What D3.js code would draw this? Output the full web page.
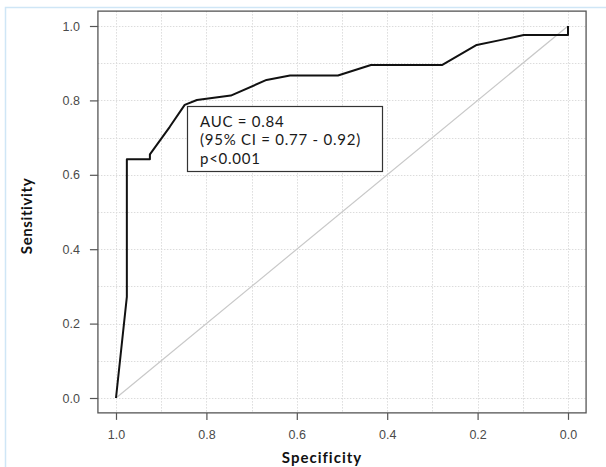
<!DOCTYPE html>
<html><head><meta charset="utf-8">
<script src="https://cdn.jsdelivr.net/npm/d3@7"></script>
<style>html,body{margin:0;padding:0;background:#fff;}svg{display:block;}</style>
</head><body>
<script>
// ROC curve points (specificity, sensitivity)
const specificity = [1.0, 0.976, 0.976, 0.925, 0.925, 0.881, 0.848, 0.821, 0.746, 0.667, 0.615, 0.509, 0.436, 0.279, 0.202, 0.15, 0.098, 0.0, 0.0];
const sensitivity = [0.0, 0.272, 0.642, 0.642, 0.655, 0.729, 0.788, 0.801, 0.813, 0.855, 0.867, 0.867, 0.895, 0.895, 0.949, 0.962, 0.976, 0.976, 1.0];
const xTicks = [1.0, 0.8, 0.6, 0.4, 0.2, 0.0];
const yTicks = [0.0, 0.2, 0.4, 0.6, 0.8, 1.0];
const gridVals = [0, 0.1, 0.2, 0.3, 0.4, 0.5, 0.6, 0.7, 0.8, 0.9, 1.0];
const annotation = ["AUC = 0.84", "(95% CI = 0.77 - 0.92)", "p<0.001"];
const xTitle = "Specificity", yTitle = "Sensitivity";

const W = 606, H = 467;
const svg = d3.select("body").append("svg").attr("width", W).attr("height", H);

// outer light-blue frame
svg.append("rect").attr("x", 5.5).attr("y", 7.5).attr("width", 620).attr("height", 480)
  .attr("fill", "#fff").attr("stroke", "#cfe6f6").attr("stroke-width", 1.5);

const x = d3.scaleLinear().domain([1, 0]).range([116, 568]);
const y = d3.scaleLinear().domain([0, 1]).range([398, 26]);
const fx0 = x(1.04), fx1 = x(-0.04), fy0 = y(-0.04), fy1 = y(1.04);

// grid
const grid = svg.append("g").attr("stroke", "#dcdcdc").attr("stroke-width", 1).attr("stroke-dasharray", "1.5,1.5");
grid.selectAll(".gx").data(gridVals).join("line")
  .attr("x1", d => Math.round(x(d)) + 0.5).attr("x2", d => Math.round(x(d)) + 0.5)
  .attr("y1", fy1).attr("y2", fy0);
grid.selectAll(".gy").data(gridVals).join("line")
  .attr("y1", d => Math.round(y(d)) + 0.5).attr("y2", d => Math.round(y(d)) + 0.5)
  .attr("x1", fx0).attr("x2", fx1);

// diagonal reference
svg.append("line").attr("x1", x(1)).attr("y1", y(0)).attr("x2", x(0)).attr("y2", y(1))
  .attr("stroke", "#c8c8c8").attr("stroke-width", 1.2);

// frame
svg.append("rect").attr("x", fx0).attr("y", fy1).attr("width", fx1 - fx0).attr("height", fy0 - fy1)
  .attr("fill", "none").attr("stroke", "#555").attr("stroke-width", 1.3);

// axes
const xAxis = d3.axisBottom(x).tickValues(xTicks).tickFormat(d3.format(".1f")).tickSize(7).tickPadding(10);
const gx = svg.append("g").attr("transform", `translate(0,${fy0})`).call(xAxis);
gx.select(".domain").remove();
const yAxis = d3.axisLeft(y).tickValues(yTicks).tickFormat(d3.format(".1f")).tickSize(8).tickPadding(10);
const gy = svg.append("g").attr("transform", `translate(${fx0},0)`).call(yAxis);
gy.select(".domain").remove();
[gx, gy].forEach(g => {
  g.selectAll("line").attr("stroke", "#555").attr("stroke-width", 1.2);
  g.selectAll("text").attr("fill", "#4a4a4a").style("font-family", "'Liberation Sans', Arial, sans-serif").style("font-size", "12.5px");
});

// ROC curve
const pts = specificity.map((s, i) => [s, sensitivity[i]]);
svg.append("path").datum(pts)
  .attr("d", d3.line().x(d => x(d[0])).y(d => y(d[1])))
  .attr("fill", "none").attr("stroke", "#111").attr("stroke-width", 2).attr("stroke-linejoin", "round");

// annotation box
svg.append("rect").attr("x", 187.5).attr("y", 106.5).attr("width", 195).attr("height", 65)
  .attr("fill", "#fff").attr("stroke", "#333").attr("stroke-width", 1.2);
svg.append("g").selectAll("text").data(annotation).join("text")
  .attr("x", 200).attr("y", (d, i) => 126.5 + i * 18.6)
  .attr("fill", "#1a1a1a")
  .style("font-family", "Lato, 'Open Sans', sans-serif").style("font-size", "15px")
  .style("letter-spacing", "0.75px")
  .text(d => d);

// axis titles
svg.append("text").attr("x", 322).attr("y", 463).attr("text-anchor", "middle")
  .style("font-family", "Lato, sans-serif").style("font-weight", "bold").style("font-size", "15px")
  .style("letter-spacing", "1px")
  .attr("fill", "#111").text(xTitle);
svg.append("text").attr("transform", "translate(32,216) rotate(-90)").attr("text-anchor", "middle")
  .style("font-family", "Lato, sans-serif").style("font-weight", "bold").style("font-size", "15px")
  .style("letter-spacing", "0.6px")
  .attr("fill", "#111").text(yTitle);
</script>
</body></html>
